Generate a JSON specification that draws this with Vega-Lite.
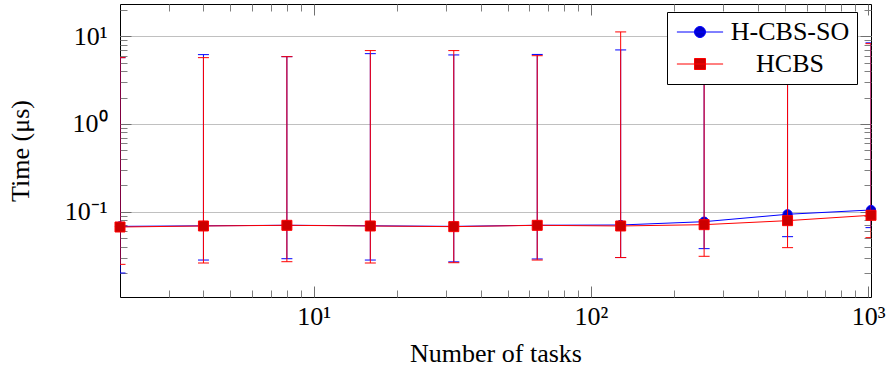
{
  "$schema": "https://vega.github.io/schema/vega-lite/v6.json",
  "width": 751,
  "height": 293,
  "autosize": {"type": "none"},
  "padding": {"left": 120, "top": 4, "right": 17, "bottom": 77},
  "config": {
    "font": "Liberation Serif",
    "view": {"stroke": "#000000", "strokeWidth": 1},
    "axis": {"labelFont": "Liberation Serif", "titleFont": "Liberation Serif", "labelColor": "#000000", "titleColor": "#000000", "labelFontSize": 26, "titleFontSize": 26, "titleFontWeight": "normal", "labelFlush": false, "labelOverlap": false}
  },
  "data": {
    "values": [
      {"s": "H-CBS-SO", "n": 2, "t": 0.068, "lo": 0.020, "hi": 5.7},
      {"s": "H-CBS-SO", "n": 4, "t": 0.069, "lo": 0.0281, "hi": 6.17},
      {"s": "H-CBS-SO", "n": 8, "t": 0.070, "lo": 0.0291, "hi": 5.85},
      {"s": "H-CBS-SO", "n": 16, "t": 0.069, "lo": 0.0281, "hi": 6.33},
      {"s": "H-CBS-SO", "n": 32, "t": 0.068, "lo": 0.0268, "hi": 6.12},
      {"s": "H-CBS-SO", "n": 64, "t": 0.070, "lo": 0.0289, "hi": 6.2},
      {"s": "H-CBS-SO", "n": 128, "t": 0.0705, "lo": 0.030, "hi": 6.98},
      {"s": "H-CBS-SO", "n": 256, "t": 0.0769, "lo": 0.0379, "hi": 6.8},
      {"s": "H-CBS-SO", "n": 512, "t": 0.0934, "lo": 0.0519, "hi": 6.5},
      {"s": "H-CBS-SO", "n": 1024, "t": 0.1045, "lo": 0.0658, "hi": 8.4},
      {"s": "HCBS", "n": 2, "t": 0.0669, "lo": 0.0251, "hi": 5.7},
      {"s": "HCBS", "n": 4, "t": 0.0687, "lo": 0.026, "hi": 5.7},
      {"s": "HCBS", "n": 8, "t": 0.0699, "lo": 0.0269, "hi": 5.85},
      {"s": "HCBS", "n": 16, "t": 0.0687, "lo": 0.026, "hi": 6.86},
      {"s": "HCBS", "n": 32, "t": 0.0675, "lo": 0.0262, "hi": 6.86},
      {"s": "HCBS", "n": 64, "t": 0.0699, "lo": 0.0281, "hi": 6.0},
      {"s": "HCBS", "n": 128, "t": 0.0687, "lo": 0.030, "hi": 11.2},
      {"s": "HCBS", "n": 256, "t": 0.0711, "lo": 0.031, "hi": 7.5},
      {"s": "HCBS", "n": 512, "t": 0.079, "lo": 0.0389, "hi": 6.6},
      {"s": "HCBS", "n": 1024, "t": 0.091, "lo": 0.0506, "hi": 8.23}
    ]
  },
  "resolve": {"axis": {"x": "independent", "y": "independent"}},
  "layer": [
    {
      "transform": [{"filter": "datum.s === 'H-CBS-SO'"}],
      "mark": {"type": "rule", "color": "#0000ff", "strokeWidth": 1, "clip": true},
      "encoding": {
        "x": {"field": "n", "type": "quantitative", "scale": {"type": "log", "domain": [2, 1024], "nice": false},
          "axis": {"orient": "bottom", "values": [10, 100, 1000], "labelExpr": "datum.value == 10 ? '10¹' : datum.value == 100 ? '10²' : '10³'", "ticks": false, "domain": false, "grid": false, "labelPadding": 6, "title": "Number of tasks", "titlePadding": 11}},
        "y": {"field": "lo", "type": "quantitative", "scale": {"type": "log", "domain": [0.01065, 23.3], "nice": false},
          "axis": {"orient": "left", "values": [0.1, 1, 10], "labelExpr": "datum.value == 10 ? '10¹' : datum.value == 1 ? '10⁰' : '10⁻¹'", "ticks": false, "domain": false, "grid": true, "gridColor": "#c0c0c0", "gridWidth": 1, "gridOpacity": 1, "labelPadding": 13, "title": "Time (μs)", "titlePadding": 31}},
        "y2": {"field": "hi"}
      }
    },
    {
      "transform": [{"filter": "datum.s === 'H-CBS-SO'"}],
      "mark": {"type": "tick", "orient": "horizontal", "color": "#0000ff", "size": 11, "thickness": 1, "opacity": 1, "clip": true},
      "encoding": {
        "x": {"field": "n", "type": "quantitative", "axis": {"orient": "bottom", "values": [10, 100, 1000], "ticks": true, "tickSize": -11, "tickColor": "#707070", "tickWidth": 1, "labels": false, "domain": false, "grid": false, "title": null}},
        "y": {"field": "lo", "type": "quantitative", "axis": {"orient": "left", "values": [0.1, 1, 10], "ticks": true, "tickSize": -11, "tickColor": "#707070", "tickWidth": 1, "labels": false, "domain": false, "grid": false, "title": null}}
      }
    },
    {
      "transform": [{"filter": "datum.s === 'H-CBS-SO'"}],
      "mark": {"type": "tick", "orient": "horizontal", "color": "#0000ff", "size": 11, "thickness": 1, "opacity": 1, "clip": true},
      "encoding": {
        "x": {"field": "n", "type": "quantitative", "axis": {"orient": "top", "values": [10, 100, 1000], "ticks": true, "tickSize": -11, "tickColor": "#707070", "tickWidth": 1, "labels": false, "domain": false, "grid": false, "title": null}},
        "y": {"field": "hi", "type": "quantitative", "axis": {"orient": "right", "values": [0.1, 1, 10], "ticks": true, "tickSize": -11, "tickColor": "#707070", "tickWidth": 1, "labels": false, "domain": false, "grid": false, "title": null}}
      }
    },
    {
      "transform": [{"filter": "datum.s === 'H-CBS-SO'"}],
      "mark": {"type": "line", "strokeWidth": 1, "clip": true},
      "encoding": {
        "x": {"field": "n", "type": "quantitative", "axis": {"orient": "bottom", "values": [3, 4, 5, 6, 7, 8, 9, 20, 30, 40, 50, 60, 70, 80, 90, 200, 300, 400, 500, 600, 700, 800, 900], "ticks": true, "tickSize": -7, "tickColor": "#808080", "tickWidth": 1, "labels": false, "domain": false, "grid": false, "title": null}},
        "y": {"field": "t", "type": "quantitative", "axis": {"orient": "left", "values": [0.02, 0.03, 0.04, 0.05, 0.06, 0.07, 0.08, 0.09, 0.2, 0.3, 0.4, 0.5, 0.6, 0.7, 0.8, 0.9, 2, 3, 4, 5, 6, 7, 8, 9, 20], "ticks": true, "tickSize": -7, "tickColor": "#808080", "tickWidth": 1, "labels": false, "domain": false, "grid": false, "title": null}},
        "color": {"field": "s", "type": "nominal", "scale": {"domain": ["H-CBS-SO", "HCBS"], "range": ["#0000ff", "#ff0000"]},
          "legend": {
            "title": null,
            "orient": "none",
            "legendX": 547,
            "legendY": 8,
            "fillColor": "#ffffff",
            "strokeColor": "#000000",
            "padding": 7,
            "rowPadding": 6,
            "symbolSize": 484,
            "symbolStrokeWidth": 1,
            "symbolOffset": 13,
            "labelAlign": "center",
            "labelOffset": 77,
            "labelFont": "Liberation Serif",
            "labelFontSize": 26,
            "labelColor": "#000000",
            "zindex": 1,
            "encode": {
              "symbols": {
                "update": {
                  "shape": {"signal": "datum.value === 'HCBS' ? 'M-2.1,0H2.1M-0.5,-0.5H0.5V0.5H-0.5Z' : 'M-2.1,0H2.1M0.5,0A0.5,0.5,0,1,1,-0.5,0A0.5,0.5,0,1,1,0.5,0Z'"},
                  "fill": {"signal": "datum.value === 'HCBS' ? '#cc0000' : '#0000cc'"},
                  "stroke": {"signal": "datum.value === 'HCBS' ? '#ff0000' : '#0000ff'"},
                  "strokeWidth": {"value": 1},
                  "opacity": {"value": 1}
                }
              }
            }
          }
        }
      }
    },
    {
      "transform": [{"filter": "datum.s === 'H-CBS-SO'"}],
      "mark": {"type": "point", "shape": "circle", "filled": true, "fill": "#0000cc", "stroke": "#0000ff", "strokeWidth": 1, "size": 85, "opacity": 1},
      "encoding": {
        "x": {"field": "n", "type": "quantitative", "axis": {"orient": "top", "values": [3, 4, 5, 6, 7, 8, 9, 20, 30, 40, 50, 60, 70, 80, 90, 200, 300, 400, 500, 600, 700, 800, 900], "ticks": true, "tickSize": -7, "tickColor": "#808080", "tickWidth": 1, "labels": false, "domain": false, "grid": false, "title": null}},
        "y": {"field": "t", "type": "quantitative", "axis": {"orient": "right", "values": [0.02, 0.03, 0.04, 0.05, 0.06, 0.07, 0.08, 0.09, 0.2, 0.3, 0.4, 0.5, 0.6, 0.7, 0.8, 0.9, 2, 3, 4, 5, 6, 7, 8, 9, 20], "ticks": true, "tickSize": -7, "tickColor": "#808080", "tickWidth": 1, "labels": false, "domain": false, "grid": false, "title": null}}
      }
    },
    {
      "transform": [{"filter": "datum.s === 'HCBS'"}],
      "mark": {"type": "rule", "color": "#ff0000", "strokeWidth": 1, "clip": true},
      "encoding": {
        "x": {"field": "n", "type": "quantitative", "axis": null},
        "y": {"field": "lo", "type": "quantitative", "axis": null},
        "y2": {"field": "hi"}
      }
    },
    {
      "transform": [{"filter": "datum.s === 'HCBS'"}],
      "mark": {"type": "tick", "orient": "horizontal", "color": "#ff0000", "size": 11, "thickness": 1, "opacity": 1, "clip": true},
      "encoding": {
        "x": {"field": "n", "type": "quantitative", "axis": null},
        "y": {"field": "lo", "type": "quantitative", "axis": null}
      }
    },
    {
      "transform": [{"filter": "datum.s === 'HCBS'"}],
      "mark": {"type": "tick", "orient": "horizontal", "color": "#ff0000", "size": 11, "thickness": 1, "opacity": 1, "clip": true},
      "encoding": {
        "x": {"field": "n", "type": "quantitative", "axis": null},
        "y": {"field": "hi", "type": "quantitative", "axis": null}
      }
    },
    {
      "transform": [{"filter": "datum.s === 'HCBS'"}],
      "mark": {"type": "line", "color": "#ff0000", "strokeWidth": 1, "clip": true},
      "encoding": {
        "x": {"field": "n", "type": "quantitative", "axis": null},
        "y": {"field": "t", "type": "quantitative", "axis": null}
      }
    },
    {
      "transform": [{"filter": "datum.s === 'HCBS'"}],
      "mark": {"type": "point", "shape": "square", "filled": true, "fill": "#cc0000", "stroke": "#ff0000", "strokeWidth": 1, "size": 100, "opacity": 1},
      "encoding": {
        "x": {"field": "n", "type": "quantitative", "axis": null},
        "y": {"field": "t", "type": "quantitative", "axis": null}
      }
    }
  ]
}
